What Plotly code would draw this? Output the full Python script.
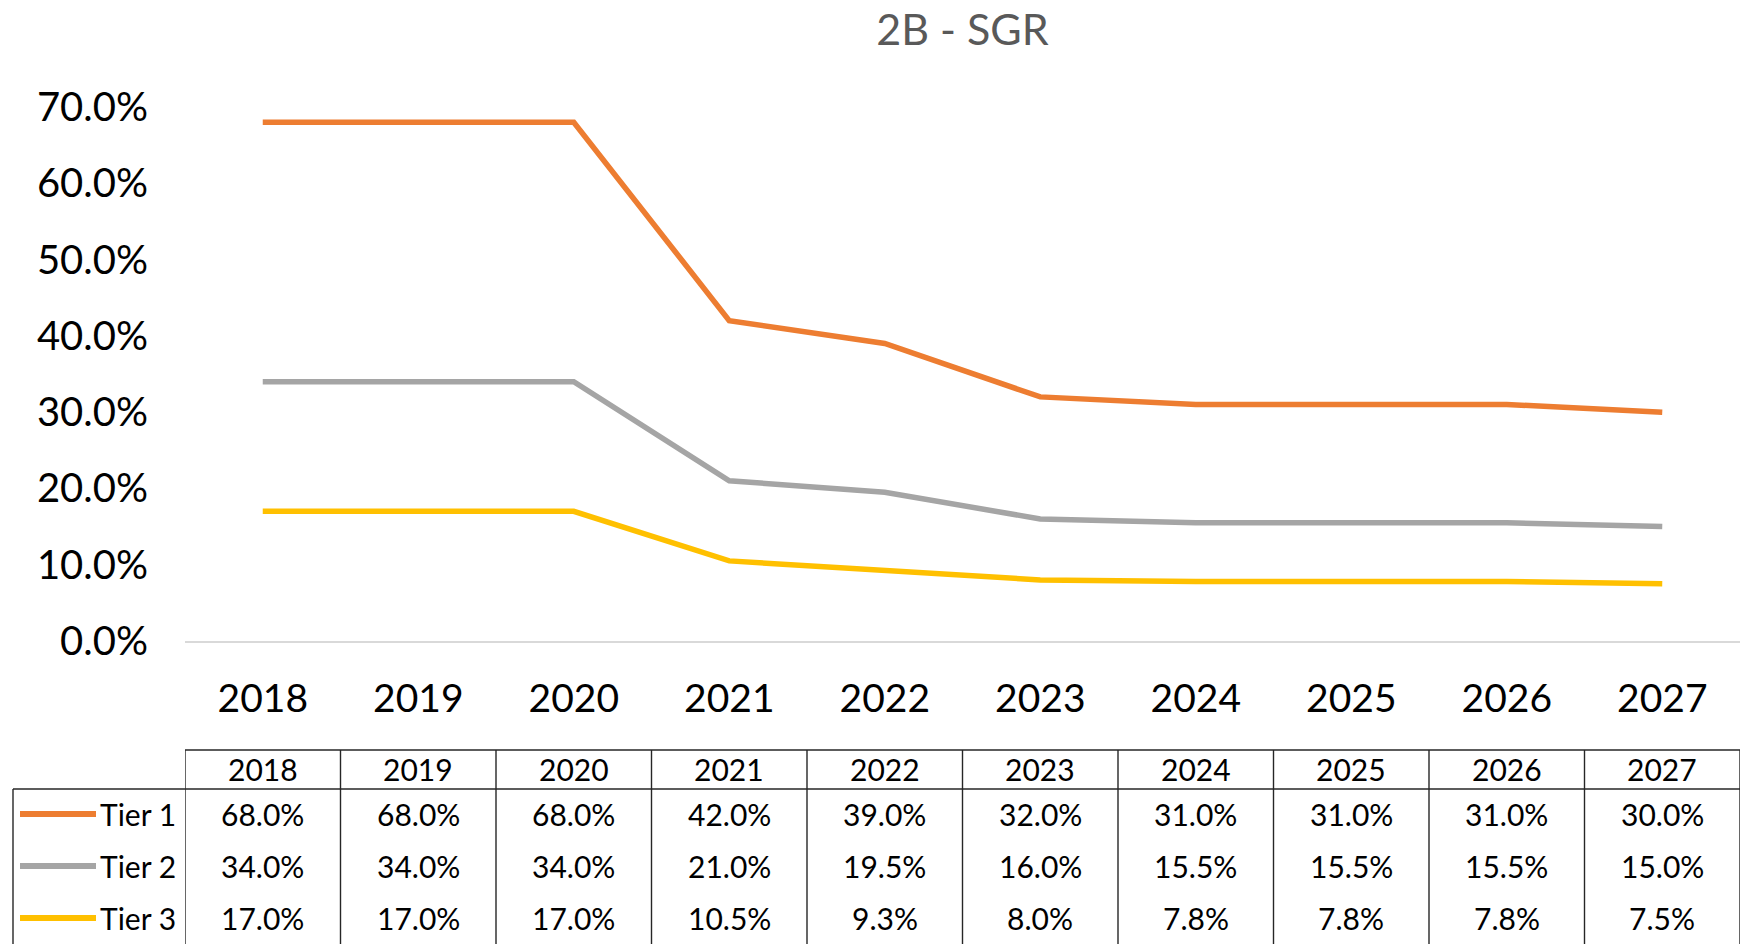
import plotly.graph_objects as go

# ---------------- data ----------------
YEARS = ["2018", "2019", "2020", "2021", "2022", "2023", "2024", "2025", "2026", "2027"]
SERIES_NAMES = ["Tier 1", "Tier 2", "Tier 3"]
TIER1 = [68.0, 68.0, 68.0, 42.0, 39.0, 32.0, 31.0, 31.0, 31.0, 30.0]
TIER2 = [34.0, 34.0, 34.0, 21.0, 19.5, 16.0, 15.5, 15.5, 15.5, 15.0]
TIER3 = [17.0, 17.0, 17.0, 10.5, 9.3, 8.0, 7.8, 7.8, 7.8, 7.5]
Y_TICKS = [0.0, 10.0, 20.0, 30.0, 40.0, 50.0, 60.0, 70.0]
TITLE = "2B - SGR"

# ---------------- styling ----------------
COLORS = ["#ED7D31", "#A5A5A5", "#FFC000"]
FONT = "Lato"
OFF = 8  # page body margin offset
W, H = 1749 - OFF, 944 - OFF
PLOT_L, PLOT_R, PLOT_T, PLOT_B = 185 - OFF, 1740 - OFF, 107 - OFF, 641 - OFF


def py(pixel_y):
    return (PLOT_B - (pixel_y - OFF)) / (PLOT_B - PLOT_T)


def px(pixel_x):
    return ((pixel_x - OFF) - PLOT_L) / (PLOT_R - PLOT_L)


fig = go.Figure()
for name, vals, col in zip(SERIES_NAMES, [TIER1, TIER2, TIER3], COLORS):
    fig.add_trace(go.Scatter(
        x=YEARS, y=[v / 100 for v in vals], mode="lines", name=name,
        line=dict(color=col, width=5.5), showlegend=False,
    ))

shapes = []
annotations = []
line_style = dict(color="#262626", width=1.4)
n = len(YEARS)
cell_font = dict(family=FONT, size=30, color="#000000")

# table geometry (pixels in the 1749x944 reference frame)
HDR_TOP, HDR_BOT, TBL_BOT = 750, 789, 960
ROW_Y = [814, 866, 918]
HDR_Y = 769

# horizontal lines
shapes.append(dict(type="line", xref="x", yref="paper", x0=-0.5, x1=n - 0.5,
                   y0=py(HDR_TOP), y1=py(HDR_TOP), line=line_style))
shapes.append(dict(type="line", xref="paper", yref="paper", x0=px(13), x1=1,
                   y0=py(HDR_BOT), y1=py(HDR_BOT), line=line_style))
# vertical lines
for i in range(n + 1):
    shapes.append(dict(type="line", xref="x", yref="paper", x0=i - 0.5, x1=i - 0.5,
                       y0=py(HDR_TOP), y1=py(TBL_BOT), line=line_style))
shapes.append(dict(type="line", xref="paper", yref="paper", x0=px(13), x1=px(13),
                   y0=py(HDR_BOT), y1=py(TBL_BOT), line=line_style))

# header labels
for i, yr in enumerate(YEARS):
    annotations.append(dict(x=i, xref="x", y=py(HDR_Y), yref="paper", text=yr,
                            xanchor="center", yanchor="middle",
                            showarrow=False, font=cell_font))

# rows
for r, (name, vals, col) in enumerate(zip(SERIES_NAMES, [TIER1, TIER2, TIER3], COLORS)):
    yy = py(ROW_Y[r])
    shapes.append(dict(type="line", xref="paper", yref="paper", x0=px(20), x1=px(96),
                       y0=yy, y1=yy, line=dict(color=col, width=6)))
    annotations.append(dict(x=px(178), xref="paper", y=yy, yref="paper", text=name,
                            xanchor="right", yanchor="middle", showarrow=False,
                            font=cell_font))
    for i, v in enumerate(vals):
        annotations.append(dict(x=i, xref="x", y=yy, yref="paper", text=f"{v:.1f}%",
                                xanchor="center", yanchor="middle",
                                showarrow=False, font=cell_font))

fig.update_layout(
    width=W, height=H,
    margin=dict(l=PLOT_L, r=W - PLOT_R, t=PLOT_T, b=H - PLOT_B, autoexpand=False),
    paper_bgcolor="white", plot_bgcolor="white",
    title=dict(text=TITLE, x=0.5, xanchor="center", y=1 - (30 - OFF) / H, yanchor="middle",
               yref="container", xref="paper",
               font=dict(family=FONT, size=43, color="#595959")),
    xaxis=dict(type="category", range=[-0.5, n - 0.5], showgrid=False, zeroline=False,
               showline=True, linecolor="#D9D9D9", linewidth=1.5, ticks="",
               tickfont=dict(family=FONT, size=39, color="#000000"),
               ticklabelstandoff=22),
    yaxis=dict(range=[0, 0.7], tickvals=[t / 100 for t in Y_TICKS], tickformat=".1%",
               showgrid=False, zeroline=False, showline=False, ticks="",
               tickfont=dict(family=FONT, size=40, color="#000000"),
               ticklabelstandoff=36),
    shapes=shapes, annotations=annotations,
)

fig.write_html("out.html")
